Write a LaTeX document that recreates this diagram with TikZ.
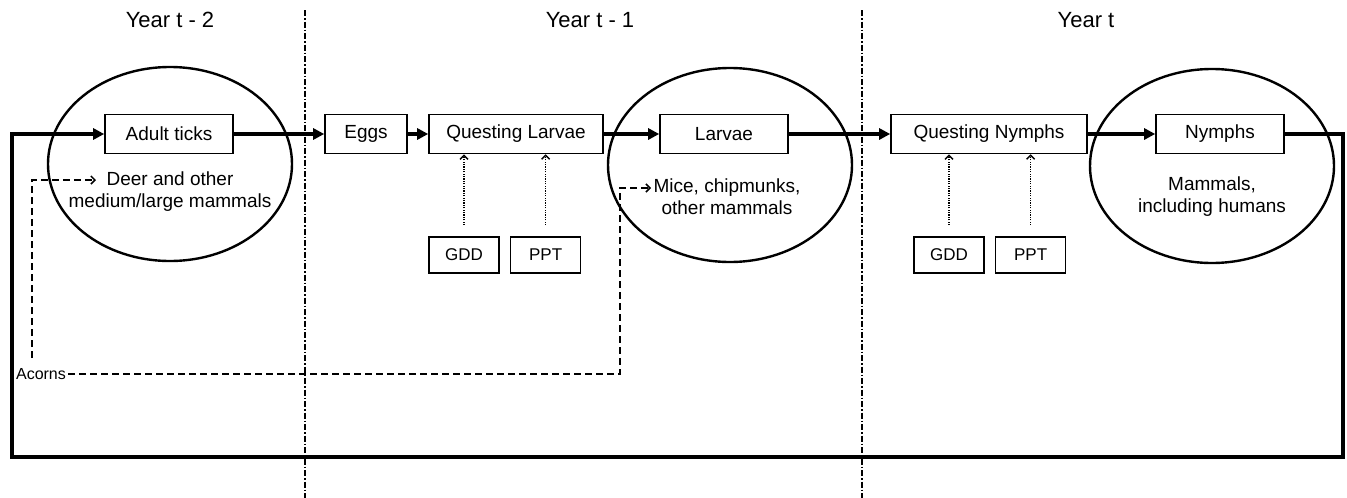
\documentclass[tikz,border=0pt]{standalone}
\usepackage{fontspec}
\setmainfont{Liberation Sans}
\usetikzlibrary{arrows.meta, positioning, shapes.geometric}

\begin{document}
\begin{tikzpicture}[
    x=1pt, y=1pt,
    font=\fontsize{19}{22}\selectfont,
    stage/.style={rectangle, draw, line width=1.6pt, minimum height=39pt, inner sep=0pt},
    driver/.style={rectangle, draw, line width=1.6pt, minimum width=70pt, minimum height=36pt, inner sep=0pt, font=\fontsize{17}{20}\selectfont},
    host/.style={ellipse, draw, line width=2.4pt, minimum width=244pt, minimum height=194pt, inner sep=0pt},
    hosttext/.style={align=center, inner sep=0pt},
    year/.style={font=\fontsize{22}{24}\selectfont},
    arrow/.style={line width=3.2pt, -{Triangle[length=11pt, width=11pt]}},
    dotarrow/.style={line width=1.4pt, dash pattern=on 1.2pt off 1.2pt, -{Straight Barb[length=4pt, width=8pt]}, shorten <=11pt},
    dasharrow/.style={line width=1.5pt, dash pattern=on 7pt off 4pt, -{Straight Barb[length=4pt, width=8pt]}},
    divider/.style={line width=1.3pt, dash pattern=on 6pt off 2pt on 1.5pt off 2pt}
]
    \useasboundingbox (0,0) rectangle (1347,-498);

    % year columns
    \node[year] (yr2) at (170,-20) {Year t - 2};
    \node[year] (yr1) at (590,-20) {Year t - 1};
    \node[year] (yr0) at (1086,-20) {Year t};
    \draw[divider] (305,-10) -- (305,-498);
    \draw[divider] (862,-10) -- (862,-498);

    % hosts
    \node[host] (hostA) at (170,-164) {};
    \node[host] (hostL) at (730,-165) {};
    \node[host] (hostN) at (1212,-166) {};
    \node[hosttext] (deer) at (170,-192) {Deer and other\\medium/large mammals};
    \node[hosttext] (mice) at (727,-197) {Mice, chipmunks,\\other mammals};
    \node[hosttext] (mammals) at (1212,-197) {Mammals,\\including humans};

    % life stages
    \node[stage, minimum width=128pt] (adult) at (169,-134) {Adult ticks};
    \node[stage, minimum width=82pt] (eggs) at (366,-134) {Eggs};
    \node[stage, minimum width=174pt] (qlarvae) at (516,-134) {Questing Larvae};
    \node[stage, minimum width=128pt] (larvae) at (724,-134) {Larvae};
    \node[stage, minimum width=196pt] (qnymphs) at (989,-134) {Questing Nymphs};
    \node[stage, minimum width=128pt] (nymphs) at (1220,-134) {Nymphs};

    % weather drivers
    \node[driver] (gddL) at (464,-255) {GDD};
    \node[driver, right=10pt of gddL] (pptL) {PPT};
    \node[driver] (gddN) at (949,-255) {GDD};
    \node[driver, right=10pt of gddN] (pptN) {PPT};

    \node[font=\fontsize{16}{18}\selectfont, inner sep=2pt] (acorns) at (41,-374) {Acorns};
    \coordinate (deertip) at (96,-180);
    \coordinate (micetip) at (651,-188);
    \coordinate (acornturn) at (620,-188);
    \coordinate (loopR) at (1343,-457);
    \coordinate (loopL) at (12,-457);

    \draw[arrow] (adult) -- (eggs);
    \draw[arrow] (eggs) -- (qlarvae);
    \draw[arrow] (qlarvae) -- (larvae);
    \draw[arrow] (larvae) -- (qnymphs);
    \draw[arrow] (qnymphs) -- (nymphs);
    \draw[arrow] (nymphs.east) -| (loopR) -- (loopL) |- (adult.west);

    \draw[dotarrow] (gddL.north) -- (gddL.north |- qlarvae.south);
    \draw[dotarrow] (pptL.north) -- (pptL.north |- qlarvae.south);
    \draw[dotarrow] (gddN.north) -- (gddN.north |- qnymphs.south);
    \draw[dotarrow] (pptN.north) -- (pptN.north |- qnymphs.south);

    \draw[dasharrow, shorten <=8pt] ([xshift=-9pt]acorns.north) |- (deertip);
    \draw[dasharrow] (acorns.east) -| (acornturn) -- (micetip);
\end{tikzpicture}
\end{document}
